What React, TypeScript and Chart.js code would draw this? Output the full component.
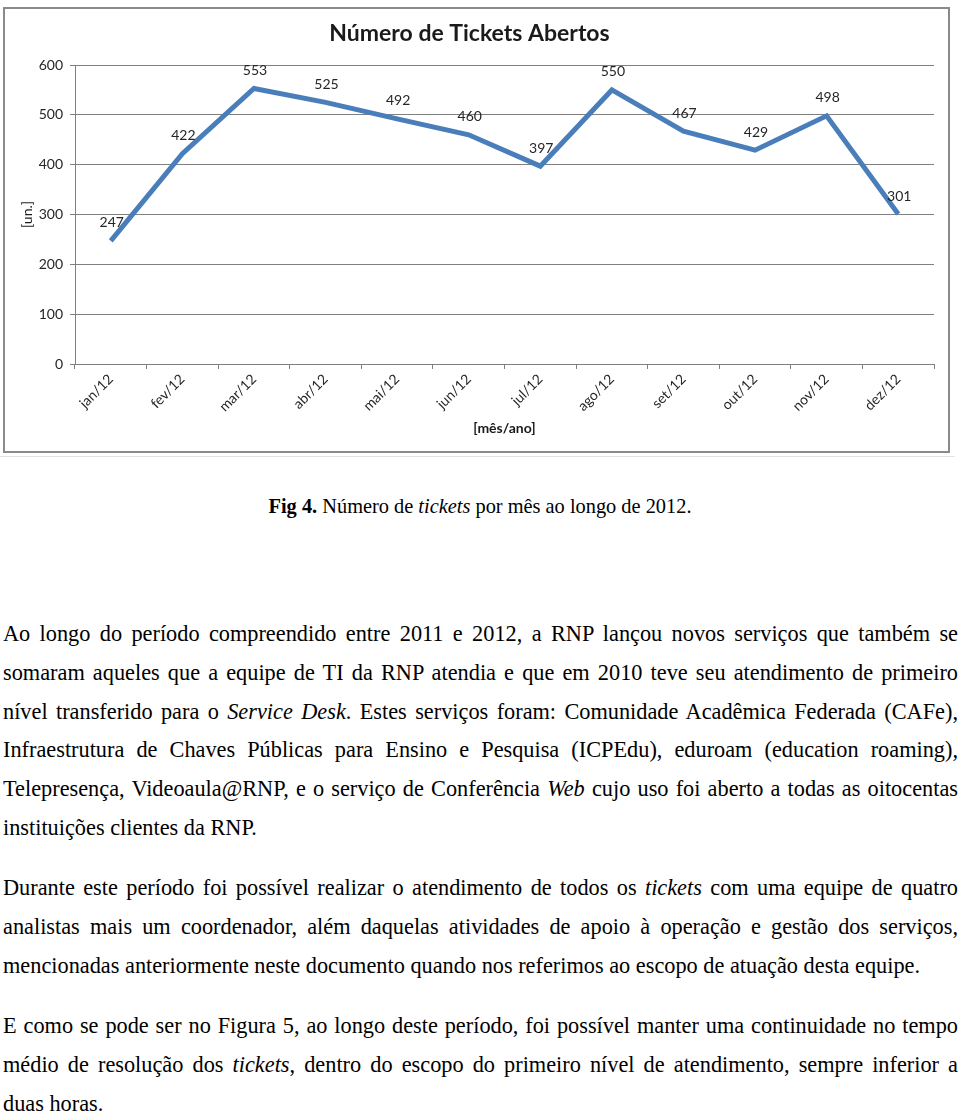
import React, { useEffect, useRef } from "react";
import { Chart, registerables } from "chart.js";

Chart.register(...registerables);

// ---- Data ----
const months = ["jan/12", "fev/12", "mar/12", "abr/12", "mai/12", "jun/12", "jul/12", "ago/12", "set/12", "out/12", "nov/12", "dez/12"];
const tickets = [247, 422, 553, 525, 492, 460, 397, 550, 467, 429, 498, 301];
const yTicks = [0, 100, 200, 300, 400, 500, 600];

const chartTitle = "Número de Tickets Abertos";
const xTitle = "[mês/ano]";
const yTitle = "[un.]";

// ---- Text ----
const caption = ["**Fig 4.** Número de *tickets* por mês ao longo de 2012."];
const para1 = [
  "Ao longo do período compreendido entre 2011 e 2012, a RNP lançou novos serviços que também se",
  "somaram aqueles que a equipe de TI da RNP atendia e que em 2010 teve seu atendimento de primeiro",
  "nível transferido para o *Service Desk*. Estes serviços foram: Comunidade Acadêmica Federada (CAFe),",
  "Infraestrutura de Chaves Públicas para Ensino e Pesquisa (ICPEdu), eduroam (education roaming),",
  "Telepresença, Videoaula@RNP, e o serviço de Conferência *Web* cujo uso foi aberto a todas as oitocentas",
  "instituições clientes da RNP.",
];
const para2 = [
  "Durante este período foi possível realizar o atendimento de todos os *tickets* com uma equipe de quatro",
  "analistas mais um coordenador, além daquelas atividades de apoio à operação e gestão dos serviços,",
  "mencionadas anteriormente neste documento quando nos referimos ao escopo de atuação desta equipe.",
];
const para3 = [
  "E como se pode ser no Figura 5, ao longo deste período, foi possível manter uma continuidade no tempo",
  "médio de resolução dos *tickets*, dentro do escopo do primeiro nível de atendimento, sempre inferior a",
  "duas horas.",
];

const CHART_FONT = "Lato, 'Liberation Sans', sans-serif";
const SERIF = "'Liberation Serif', 'Times New Roman', serif";
const TEXT_SIZE = 23;
const LINE_H = 38.8;

function renderSegments(line: string) {
  const out: React.ReactNode[] = [];
  const re = /(\*\*[^*]+\*\*|\*[^*]+\*)/g;
  let last = 0;
  let m: RegExpExecArray | null;
  let k = 0;
  while ((m = re.exec(line))) {
    if (m.index > last) out.push(<span key={k++}>{line.slice(last, m.index)}</span>);
    const tok = m[0];
    if (tok.startsWith("**")) out.push(<b key={k++}>{tok.slice(2, -2)}</b>);
    else out.push(<i key={k++}>{tok.slice(1, -1)}</i>);
    last = m.index + tok.length;
  }
  if (last < line.length) out.push(<span key={k++}>{line.slice(last)}</span>);
  return out;
}

function plain(line: string) {
  return line.replace(/\*/g, "");
}

function computeScale(): number {
  const c = document.createElement("canvas");
  const ctx = c.getContext("2d");
  if (!ctx) return 0.85;
  ctx.font = `${TEXT_SIZE}px ${SERIF}`;
  const ref = ctx.measureText(plain(para2[2])).width;
  let s = 917 / ref;
  const all = [...para1, ...para2, ...para3];
  let maxW = 0;
  for (const l of all) {
    maxW = Math.max(maxW, ctx.measureText(plain(l)).width + 8);
  }
  s = Math.min(s, 953 / maxW);
  return s;
}

function Paragraph({ lines, top, scale }: { lines: string[]; top: number; scale: number }) {
  const w = 955 / scale;
  return (
    <div style={{ position: "absolute", left: 3, top, width: 957 }}>
      <div
        style={{
          width: w,
          transform: `scaleX(${scale})`,
          transformOrigin: "0 0",
          fontFamily: SERIF,
          fontSize: TEXT_SIZE,
          lineHeight: `${LINE_H}px`,
          color: "#000",
        }}
      >
        {lines.map((l, i) => {
          const isLast = i === lines.length - 1;
          return (
            <div
              key={i}
              style={{
                textAlign: isLast ? "left" : "justify",
                textAlignLast: isLast ? "left" : "justify",
              }}
            >
              {renderSegments(l)}
            </div>
          );
        })}
      </div>
    </div>
  );
}

const dataLabels = {
  id: "dataLabels",
  afterDatasetsDraw(chart: any) {
    const ctx = chart.ctx;
    const meta = chart.getDatasetMeta(0);
    const ds = chart.data.datasets[0].data as number[];
    ctx.save();
    ctx.font = `14px ${CHART_FONT}`;
    ctx.fillStyle = "#262626";
    ctx.textAlign = "center";
    ctx.textBaseline = "middle";
    meta.data.forEach((pt: any, i: number) => {
      ctx.fillText(String(ds[i]), pt.x + 1, pt.y - 18);
    });
    ctx.restore();
  },
};

function TicketsChart() {
  const ref = useRef<HTMLCanvasElement | null>(null);
  useEffect(() => {
    if (!ref.current) return;
    const grid = "#808080";
    const chart = new Chart(ref.current, {
      type: "line",
      data: {
        labels: months,
        datasets: [
          {
            data: tickets,
            borderColor: "#4a7ebb",
            borderWidth: 5,
            pointRadius: 0,
            tension: 0,
            fill: false,
          },
        ],
      },
      options: {
        animation: false,
        responsive: false,
        maintainAspectRatio: false,
        layout: { padding: { left: 0, right: 14, top: 0, bottom: 0 } },
        plugins: {
          legend: { display: false },
          tooltip: { enabled: false },
          title: {
            display: true,
            text: chartTitle,
            color: "#1a1a1a",
            font: { family: CHART_FONT, size: 23, weight: "bold" },
            padding: { top: 11, bottom: 17.4 },
          },
        },
        scales: {
          x: {
            type: "category",
            offset: true,
            grid: { offset: true, drawOnChartArea: false, drawTicks: true, tickLength: 5, color: grid },
            border: { color: grid, width: 1 },
            ticks: {
              minRotation: 45,
              maxRotation: 45,
              autoSkip: false,
              padding: 2,
              color: "#262626",
              font: { family: CHART_FONT, size: 14 },
            },
            title: {
              display: true,
              text: xTitle,
              color: "#1a1a1a",
              font: { family: CHART_FONT, size: 14, weight: "bold" },
              padding: { top: 0, bottom: 14 },
            },
            afterFit: (s: any) => {
              s.height = 87;
            },
          },
          y: {
            min: 0,
            max: 600,
            afterBuildTicks: (s: any) => {
              s.ticks = yTicks.map((v) => ({ value: v }));
            },
            grid: { color: grid, tickLength: 5, lineWidth: 1 },
            border: { color: grid, width: 1 },
            ticks: {
              padding: 7,
              color: "#262626",
              font: { family: CHART_FONT, size: 14 },
            },
            title: {
              display: true,
              text: yTitle,
              color: "#1a1a1a",
              font: { family: CHART_FONT, size: 14 },
              padding: { top: 14, bottom: 0 },
            },
            afterFit: (s: any) => {
              s.width = 70;
            },
          },
        },
      },
      plugins: [dataLabels],
    } as any);
    return () => chart.destroy();
  }, []);
  return <canvas ref={ref} width={943} height={442} style={{ display: "block", width: 943, height: 442 }} />;
}

export default function App() {
  const scale = computeScale();
  const baseOff = 27;
  return (
    <div style={{ position: "absolute", left: 0, top: 0, width: 960, height: 1115, overflow: "hidden", background: "#fff" }}>
      <div
        style={{
          position: "absolute",
          left: 3,
          top: 7,
          width: 947,
          height: 446,
          border: "2px solid #8a8a8a",
          boxSizing: "border-box",
          background: "#fff",
        }}
      >
        <TicketsChart />
      </div>
      <div style={{ position: "absolute", left: 0, top: 456, width: 955, height: 1, background: "#e2e2e2" }} />
      <div style={{ position: "absolute", left: 0, top: 514 - baseOff, width: 960 }}>
        <div
          style={{
            width: 960 / scale,
            transform: `scaleX(${scale})`,
            transformOrigin: "0 0",
            textAlign: "center",
            fontFamily: SERIF,
            fontSize: TEXT_SIZE - 2,
            lineHeight: `${LINE_H}px`,
          }}
        >
          {renderSegments(caption[0])}
        </div>
      </div>
      <Paragraph lines={para1} top={642 - baseOff} scale={scale} />
      <Paragraph lines={para2} top={896 - baseOff} scale={scale} />
      <Paragraph lines={para3} top={1034 - baseOff} scale={scale} />
    </div>
  );
}
